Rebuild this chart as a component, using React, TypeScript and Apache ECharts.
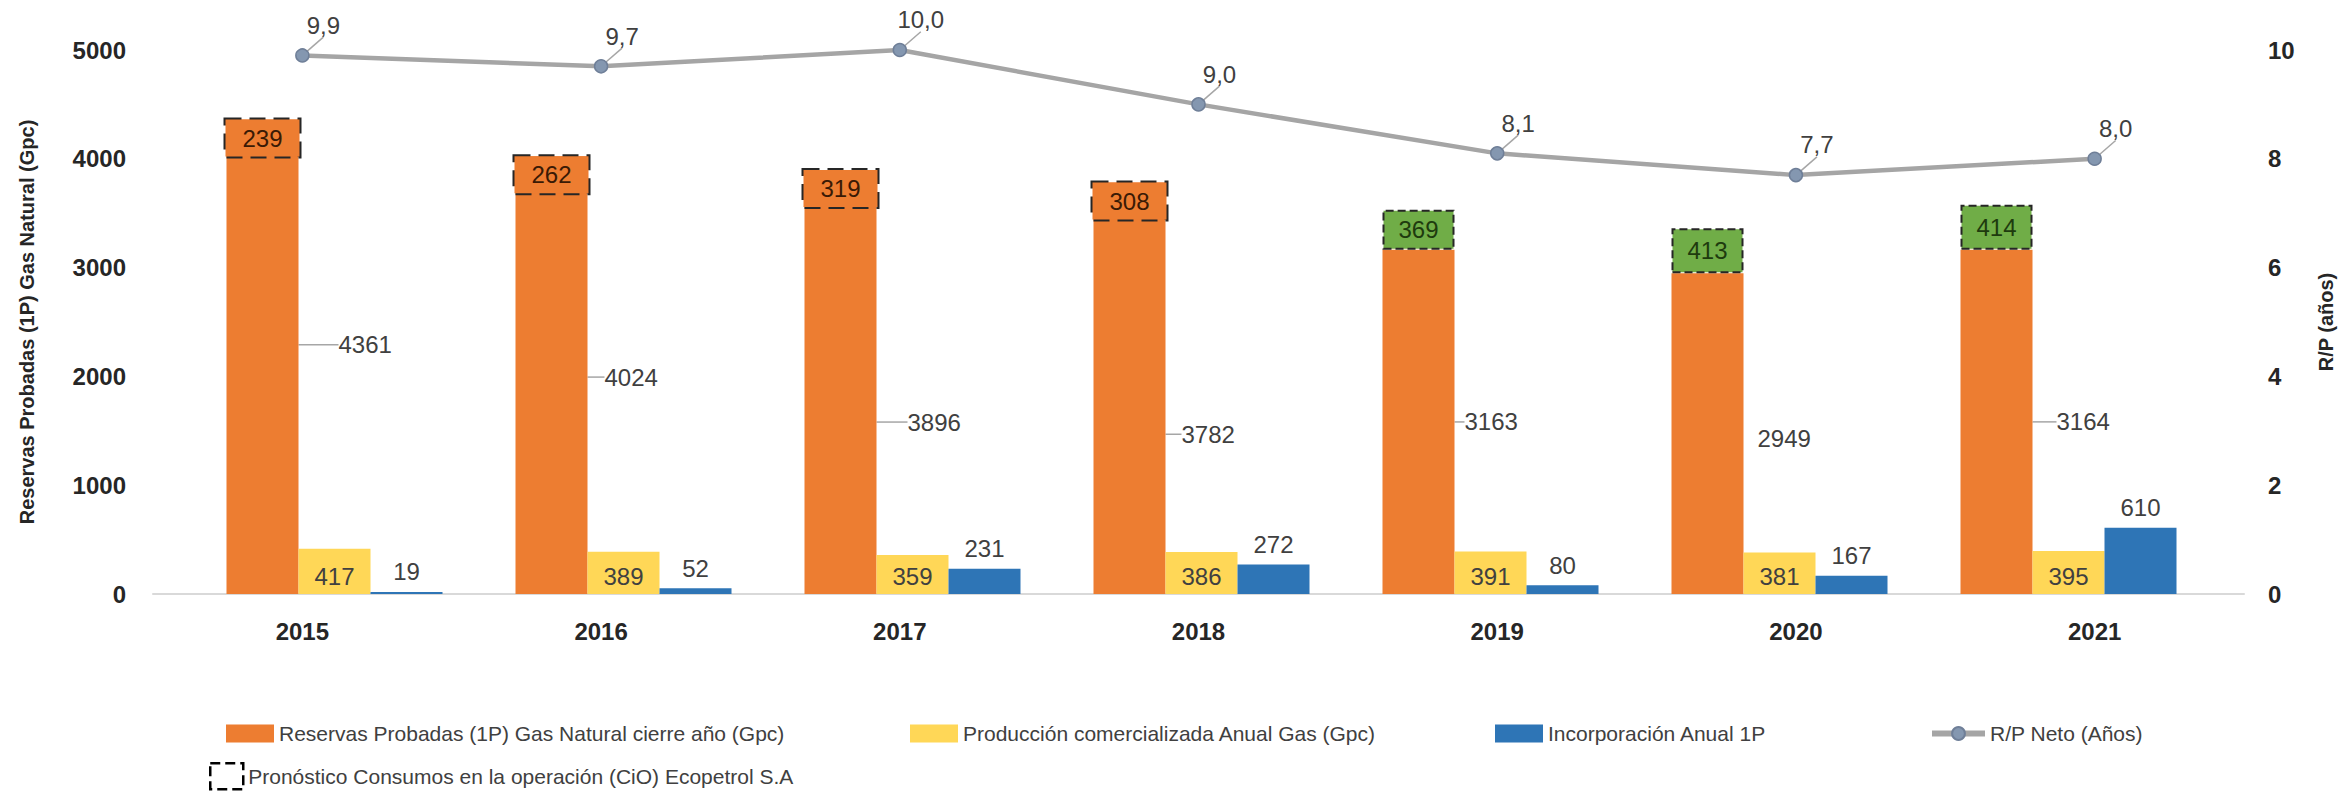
import React, { useEffect, useRef } from "react";
import * as echarts from "echarts";

// ---- data ----
const years = ["2015", "2016", "2017", "2018", "2019", "2020", "2021"];
const reservas = [4361, 4024, 3896, 3782, 3163, 2949, 3164];
const produccion = [417, 389, 359, 386, 391, 381, 395];
const incorporacion = [19, 52, 231, 272, 80, 167, 610];
const cio = [239, 262, 319, 308, 369, 413, 414];
// whether the CiO forecast is stacked on top of the reserves bar (green) or only marked inside it
const cioSobreBarra = [false, false, false, false, true, true, true];
const rpNeto = [9.9, 9.7, 10.0, 9.0, 8.1, 7.7, 8.0];
const leftAxis = { min: 0, max: 5000, interval: 1000 };
const rightAxis = { min: 0, max: 10, interval: 2 };

const S_RES = "Reservas Probadas (1P) Gas Natural cierre año (Gpc)";
const S_PROD = "Producción comercializada Anual Gas (Gpc)";
const S_INC = "Incorporación Anual 1P";
const S_RP = "R/P Neto (Años)";
const S_CIO = "Pronóstico Consumos en la operación (CiO) Ecopetrol S.A";

const FONT = "'Liberation Sans', Arial, sans-serif";
const ORANGE = "#ED7D31";
const YELLOW = "#FFD757";
const BLUE = "#2E75B6";
const GREEN = "#70AD47";
const LABEL = "#404040";
const AXIS_TXT = "#262626";

// label nudges (style only): [dx, dy, showLeader]
const resNudge: [number, number, boolean][] = [
  [35, -12, true],
  [12, 2, true],
  [26, 40, true],
  [11, 46, true],
  [5, 0, true],
  [9, 5, false],
  [19, 0, true],
];

function buildOption() {
  const cioData = years.map((_, i) =>
    cioSobreBarra[i]
      ? { value: cio[i] }
      : {
          value: 0,
          itemStyle: { color: "transparent", borderWidth: 0 },
          label: {
            show: true,
            position: "insideTop",
            distance: 0,
            backgroundColor: ORANGE,
            borderColor: "#262626",
            borderWidth: 2,
            borderType: "dashed",
            width: 74,
            height: 37,
            lineHeight: 37,
            align: "center",
            color: "#3A1A05",
            fontSize: 24,
            fontFamily: FONT,
          },
        }
  );

  const resData = reservas.map((v, i) => ({
    value: v,
    labelLine: { show: resNudge[i][2] },
  }));

  const legendBase = {
    selectedMode: false,
    orient: "horizontal",
    itemGap: 0,
    textStyle: { fontFamily: FONT, fontSize: 21, color: "#404040" },
  };

  return {
    animation: false,
    backgroundColor: "#ffffff",
    textStyle: { fontFamily: FONT },
    grid: [
      { left: 153, right: 96, top: 50, bottom: 210 },
      { left: 190, right: 131, top: 50, bottom: 210 },
    ],
    xAxis: [
      {
        type: "category",
        gridIndex: 0,
        data: years,
        boundaryGap: true,
        axisLine: { show: true, lineStyle: { color: "#D9D9D9", width: 2 } },
        axisTick: { show: false },
        axisLabel: {
          fontFamily: FONT,
          fontSize: 24,
          fontWeight: "bold",
          color: AXIS_TXT,
          margin: 25,
        },
      },
      {
        type: "category",
        gridIndex: 1,
        data: years,
        show: false,
      },
    ],
    yAxis: [
      {
        type: "value",
        gridIndex: 0,
        ...leftAxis,
        splitLine: { show: false },
        axisLine: { show: false },
        axisTick: { show: false },
        axisLabel: {
          fontFamily: FONT,
          fontSize: 24,
          fontWeight: "bold",
          color: AXIS_TXT,
          margin: 27,
          formatter: (v: number) => String(v),
        },
        name: "Reservas Probadas (1P) Gas Natural (Gpc)",
        nameLocation: "middle",
        nameRotate: 90,
        nameGap: 116,
        nameTextStyle: {
          fontFamily: FONT,
          fontSize: 20,
          fontWeight: "bold",
          color: AXIS_TXT,
        },
      },
      {
        type: "value",
        gridIndex: 0,
        position: "right",
        ...rightAxis,
        splitLine: { show: false },
        axisLine: { show: false },
        axisTick: { show: false },
        axisLabel: {
          fontFamily: FONT,
          fontSize: 24,
          fontWeight: "bold",
          color: AXIS_TXT,
          margin: 24,
          formatter: (v: number) => String(v),
        },
        name: "R/P (años)",
        nameLocation: "middle",
        nameRotate: 90,
        nameGap: 72,
        nameTextStyle: {
          fontFamily: FONT,
          fontSize: 20,
          fontWeight: "bold",
          color: AXIS_TXT,
        },
      },
      {
        type: "value",
        gridIndex: 1,
        ...leftAxis,
        show: false,
      },
    ],
    legend: [
      { ...legendBase, left: 221, top: 718, icon: "rect", itemWidth: 48, itemHeight: 18, data: [{ name: S_RES }] },
      { ...legendBase, left: 905, top: 718, icon: "rect", itemWidth: 48, itemHeight: 18, data: [{ name: S_PROD }] },
      { ...legendBase, left: 1490, top: 718, icon: "rect", itemWidth: 48, itemHeight: 18, data: [{ name: S_INC }] },
      {
        ...legendBase,
        left: 1924,
        top: 718,
        itemWidth: 53,
        itemHeight: 16,
        data: [{ name: S_RP, lineStyle: { width: 6, color: "#A5A5A5" } }],
      },
      {
        ...legendBase,
        left: 204,
        top: 757,
        icon: "rect",
        itemWidth: 33,
        itemHeight: 26,
        data: [
          {
            name: S_CIO,
            itemStyle: {
              color: "#ffffff",
              borderColor: "#000000",
              borderWidth: 2.5,
              borderType: "dashed",
            },
          },
        ],
      },
    ],
    series: [
      {
        name: S_RES,
        type: "bar",
        xAxisIndex: 1,
        yAxisIndex: 2,
        stack: "reservas",
        barWidth: 72,
        barGap: "0%",
        data: resData,
        itemStyle: { color: ORANGE },
        label: {
          show: true,
          position: "right",
          distance: 5,
          fontFamily: FONT,
          fontSize: 24,
          color: LABEL,
        },
        labelLayout: (p: any) => ({
          dx: resNudge[p.dataIndex][0],
          dy: resNudge[p.dataIndex][1],
        }),
        labelLine: {
          show: true,
          length2: 0,
          lineStyle: { color: "#A6A6A6", width: 1.5 },
        },
        z: 2,
      },
      {
        name: S_PROD,
        type: "bar",
        xAxisIndex: 1,
        yAxisIndex: 2,
        barWidth: 72,
        barGap: "0%",
        data: produccion,
        itemStyle: { color: YELLOW },
        label: {
          show: true,
          position: "insideBottom",
          distance: 6,
          fontFamily: FONT,
          fontSize: 24,
          color: LABEL,
        },
        z: 2,
      },
      {
        name: S_INC,
        type: "bar",
        xAxisIndex: 1,
        yAxisIndex: 2,
        barWidth: 72,
        barGap: "0%",
        data: incorporacion,
        itemStyle: { color: BLUE },
        label: {
          show: true,
          position: "top",
          distance: 8,
          fontFamily: FONT,
          fontSize: 24,
          color: LABEL,
        },
        z: 2,
      },
      {
        name: S_CIO,
        type: "bar",
        xAxisIndex: 1,
        yAxisIndex: 2,
        stack: "reservas",
        barWidth: 72,
        barGap: "0%",
        data: cioData,
        itemStyle: {
          color: GREEN,
          borderColor: "#262626",
          borderWidth: 2,
          borderType: "dashed",
        },
        label: {
          show: true,
          position: "inside",
          fontFamily: FONT,
          fontSize: 24,
          color: "#1E3B0E",
          formatter: (p: any) => String(cio[p.dataIndex]),
        },
        z: 3,
      },
      {
        name: S_RP,
        type: "line",
        xAxisIndex: 0,
        yAxisIndex: 1,
        data: rpNeto,
        symbol: "circle",
        symbolSize: 13,
        lineStyle: { color: "#A5A5A5", width: 4.5 },
        itemStyle: { color: "#8497B0", borderColor: "#6F7F98", borderWidth: 1.5 },
        label: {
          show: true,
          position: "top",
          distance: 6,
          fontFamily: FONT,
          fontSize: 24,
          color: LABEL,
          formatter: (p: any) => Number(p.value).toFixed(1).replace(".", ","),
        },
        labelLayout: { dx: 21, dy: -5 },
        labelLine: { show: true, lineStyle: { color: "#A6A6A6", width: 1.5 } },
        z: 5,
      },
    ],
  };
}

export default function App() {
  const ref = useRef<HTMLDivElement>(null);
  useEffect(() => {
    if (!ref.current) return;
    const chart = echarts.init(ref.current, undefined, { renderer: "svg" });
    chart.setOption(buildOption() as any);
    return () => chart.dispose();
  }, []);
  return (
    <div
      ref={ref}
      style={{
        position: "fixed",
        left: 0,
        top: 0,
        width: 2344,
        height: 804,
        background: "#ffffff",
      }}
    />
  );
}
